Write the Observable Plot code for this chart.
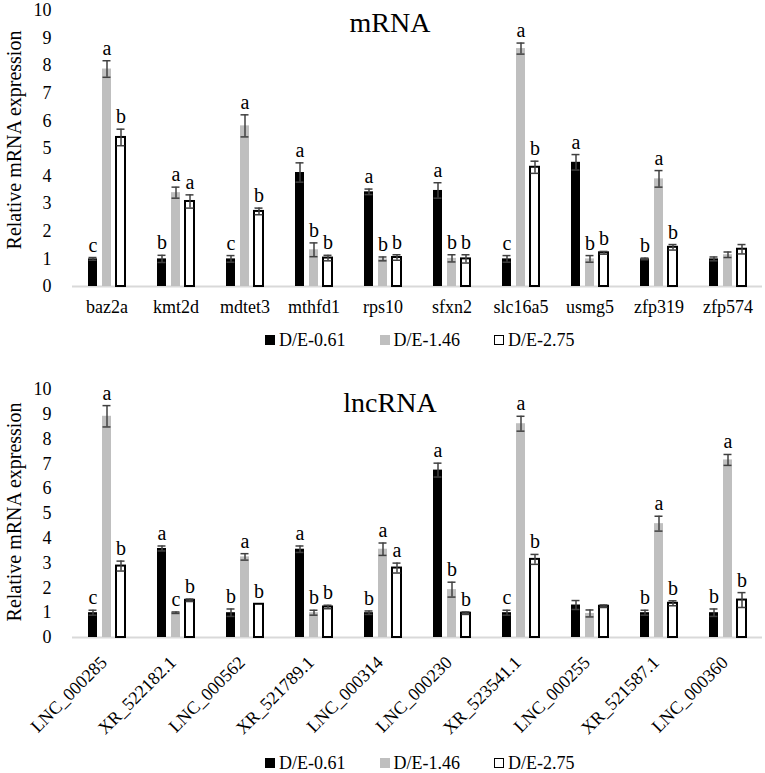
<!DOCTYPE html>
<html>
<head>
<meta charset="utf-8">
<script src="https://cdn.jsdelivr.net/npm/d3@7"></script>
<script src="https://cdn.jsdelivr.net/npm/@observablehq/plot@0.6"></script>
<style>
  html, body { margin: 0; padding: 0; background: #fff; }
  body { width: 765px; height: 773px; position: relative; overflow: hidden; font-family: "Liberation Serif", "DejaVu Serif", "Times New Roman", Times, serif; }
  .abs { position: absolute; }
  .title { font-size: 28px; line-height: 28px; transform: translateX(-50%); white-space: nowrap; }
  .ylab { font-size: 20px; line-height: 20px; white-space: nowrap; transform: translate(-50%, -50%) rotate(-90deg); }
  .legend { display: flex; gap: 34px; font-size: 18px; line-height: 18px; white-space: nowrap; }
  .item { display: flex; align-items: center; }
  .sw { width: 10px; height: 10px; margin-right: 4px; box-sizing: border-box; }
  svg text { font-family: "Liberation Serif", "DejaVu Serif", "Times New Roman", Times, serif !important; }
</style>
</head>
<body>
<div id="top" class="abs" style="left:0;top:0"></div>
<div id="bot" class="abs" style="left:0;top:375px"></div>
<script>
// ---------- data ----------
const series = ["D/E-0.61", "D/E-1.46", "D/E-2.75"];
const seriesFill = ["#000000", "#bfbfbf", "#ffffff"];

const mrnaGenes = ["baz2a", "kmt2d", "mdtet3", "mthfd1", "rps10", "sfxn2", "slc16a5", "usmg5", "zfp319", "zfp574"];
const mrnaLow  = [1.0, 1.0, 1.0, 4.13, 3.43, 3.48, 1.0, 4.5, 1.0, 1.0];
const mrnaMid  = [7.88, 3.4, 5.82, 1.33, 1.0, 1.02, 8.62, 1.0, 3.9, 1.15];
const mrnaHigh = [5.4, 3.08, 2.72, 1.03, 1.05, 1.0, 4.32, 1.22, 1.42, 1.35];
const mrnaLowErr  = [0.05, 0.13, 0.12, 0.35, 0.1, 0.28, 0.12, 0.28, 0.03, 0.07];
const mrnaMidErr  = [0.3, 0.2, 0.4, 0.25, 0.07, 0.13, 0.2, 0.12, 0.3, 0.1];
const mrnaHighErr = [0.3, 0.24, 0.12, 0.1, 0.1, 0.15, 0.22, 0.05, 0.1, 0.17];
const mrnaLowSig  = ["c", "b", "c", "a", "a", "a", "c", "a", "b", ""];
const mrnaMidSig  = ["a", "a", "a", "b", "b", "b", "a", "b", "a", ""];
const mrnaHighSig = ["b", "a", "b", "b", "b", "b", "b", "b", "b", ""];

const lncGenes = ["LNC_000285", "XR_522182.1", "LNC_000562", "XR_521789.1", "LNC_000314", "LNC_000230", "XR_523541.1", "LNC_000255", "XR_521587.1", "LNC_000360"];
const lncLow  = [1.0, 3.59, 1.0, 3.56, 1.0, 6.75, 1.0, 1.31, 1.0, 1.0];
const lncMid  = [8.92, 1.0, 3.25, 1.0, 3.56, 1.93, 8.62, 0.97, 4.59, 7.16];
const lncHigh = [2.88, 1.5, 1.34, 1.23, 2.8, 0.98, 3.15, 1.26, 1.38, 1.51];
const lncLowErr  = [0.1, 0.1, 0.15, 0.13, 0.07, 0.28, 0.1, 0.18, 0.1, 0.15];
const lncMidErr  = [0.43, 0.03, 0.13, 0.1, 0.25, 0.3, 0.3, 0.14, 0.3, 0.22];
const lncHighErr = [0.2, 0.05, 0.0, 0.07, 0.2, 0.05, 0.2, 0.05, 0.1, 0.3];
const lncLowSig  = ["c", "a", "b", "a", "b", "a", "c", "", "b", "b"];
const lncMidSig  = ["a", "c", "a", "b", "a", "b", "a", "", "a", "a"];
const lncHighSig = ["b", "b", "b", "b", "a", "b", "b", "", "b", "b"];

const yTicks = [0, 1, 2, 3, 4, 5, 6, 7, 8, 9, 10];

// ---------- build tables ----------
function table(genes, vals, errs, sigs) {
  const rows = [];
  genes.forEach((g, i) => {
    series.forEach((s, k) => {
      rows.push({gene: g, series: s, value: vals[k][i], err: errs[k][i], sig: sigs[k][i]});
    });
  });
  return rows;
}

const FONT = '"Liberation Serif", "DejaVu Serif", "Times New Roman", Times, serif';
const ERR = "#404040";

function chart(rows, genes, opts) {
  const withErr = rows.filter(d => d.err > 0);
  return Plot.plot({
    width: 765,
    height: opts.height,
    marginLeft: 71,
    marginRight: 2,
    marginTop: opts.marginTop,
    marginBottom: opts.marginBottom,
    style: {fontFamily: FONT, fontSize: "18px", color: "#000", background: "#fff"},
    fx: {domain: genes, paddingInner: 0, paddingOuter: 0, label: null},
    x: {domain: series, paddingInner: 0.2, paddingOuter: 0.907, axis: null},
    y: {domain: [0, 10], label: null},
    color: {domain: series, range: seriesFill},
    marks: [
      Plot.axisY({ticks: yTicks, tickSize: 0, tickPadding: 21, fontSize: 18, label: null}),
      Plot.axisFx(Object.assign({anchor: "bottom", tickSize: 0, fontSize: 18, label: null}, opts.fxAxis)),
      Plot.ruleY([0], {stroke: "#d9d9d9", strokeWidth: 2}),
      Plot.barY(rows, {
        fx: "gene", x: "series", y: "value", fill: "series",
        stroke: d => d.series === series[2] ? "#000" : "none",
        strokeWidth: 2, insetLeft: 1, insetRight: 1
      }),
      Plot.ruleX(withErr, {
        fx: "gene", x: "series", y1: d => d.value - d.err, y2: d => d.value + d.err,
        stroke: ERR, strokeWidth: 1.5
      }),
      Plot.tickY(withErr, {
        fx: "gene", x: "series", y: d => d.value + d.err, stroke: ERR, strokeWidth: 1.5, insetLeft: 1.5, insetRight: 1.5
      }),
      Plot.tickY(withErr, {
        fx: "gene", x: "series", y: d => d.value - d.err, stroke: ERR, strokeWidth: 1.5, insetLeft: 1.5, insetRight: 1.5
      }),
      Plot.text(rows.filter(d => d.sig), {
        fx: "gene", x: "series", y: d => d.value + d.err, text: "sig",
        lineAnchor: "bottom", dy: -6, fontSize: 20, fill: "#000"
      })
    ]
  });
}

const mrnaRows = table(mrnaGenes, [mrnaLow, mrnaMid, mrnaHigh], [mrnaLowErr, mrnaMidErr, mrnaHighErr], [mrnaLowSig, mrnaMidSig, mrnaHighSig]);
const lncRows = table(lncGenes, [lncLow, lncMid, lncHigh], [lncLowErr, lncMidErr, lncHighErr], [lncLowSig, lncMidSig, lncHighSig]);

document.getElementById("top").appendChild(chart(mrnaRows, mrnaGenes, {
  height: 325, marginTop: 10, marginBottom: 39, fxAxis: {tickPadding: 14}
}));
document.getElementById("bot").appendChild(chart(lncRows, lncGenes, {
  height: 375, marginTop: 14, marginBottom: 113, fxAxis: {tickPadding: 22, tickRotate: -45, dx: -3}
}));

// ---------- titles, y labels, legends ----------
function addDiv(cls, text, style) {
  const d = document.createElement("div");
  d.className = "abs " + cls;
  d.textContent = text;
  Object.assign(d.style, style);
  document.body.appendChild(d);
  return d;
}
addDiv("title", "mRNA", {left: "390px", top: "9px"});
addDiv("title", "lncRNA", {left: "390px", top: "389px"});
addDiv("ylab", "Relative mRNA expression", {left: "14px", top: "140px"});
addDiv("ylab", "Relative mRNA expression", {left: "14px", top: "512px"});

function legend(top) {
  const L = document.createElement("div");
  L.className = "abs legend";
  L.style.left = "265px";
  L.style.top = top + "px";
  series.forEach((s, k) => {
    const it = document.createElement("div");
    it.className = "item";
    const sw = document.createElement("div");
    sw.className = "sw";
    sw.style.background = seriesFill[k];
    if (k === 2) sw.style.border = "1.6px solid #000";
    it.appendChild(sw);
    const t = document.createElement("span");
    t.textContent = s;
    it.appendChild(t);
    L.appendChild(it);
  });
  document.body.appendChild(L);
}
legend(331);
legend(754);
</script>
</body>
</html>
